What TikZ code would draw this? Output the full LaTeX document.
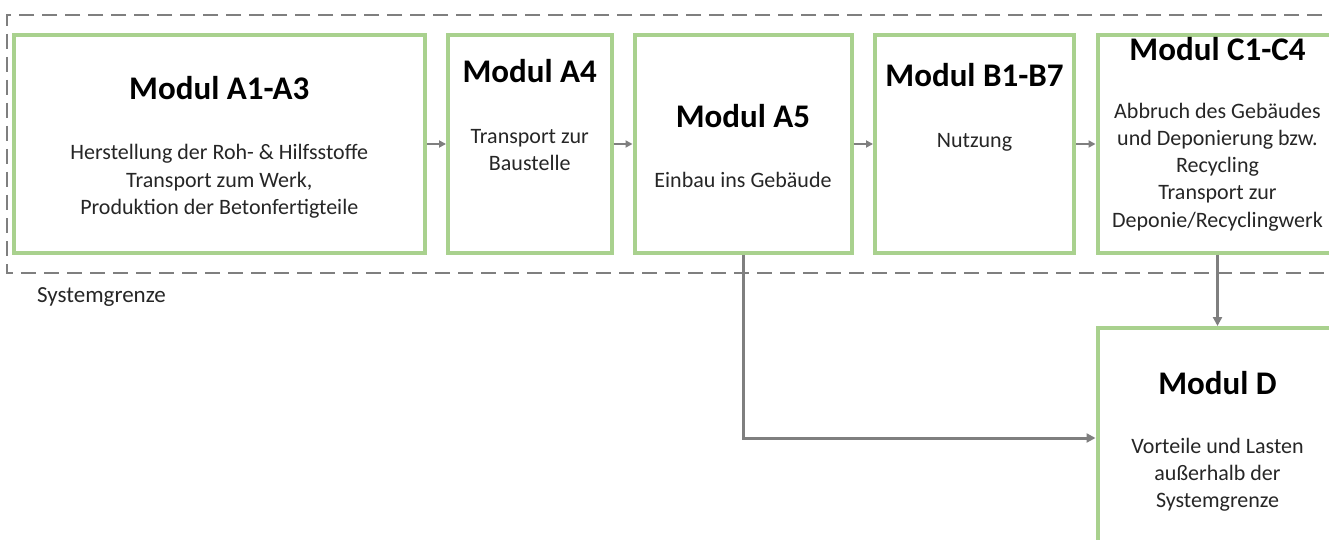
\documentclass[tikz,border=0pt]{standalone}
\usepackage{fontspec}
\setmainfont{Carlito}
\usetikzlibrary{arrows.meta}
\definecolor{boxgreen}{HTML}{A9D18E}
\definecolor{lngray}{HTML}{7F7F7F}
\definecolor{txtgray}{HTML}{262626}
\begin{document}
\begin{tikzpicture}[x=1pt,y=-1pt,
  modbox/.style={draw=boxgreen, line width=4pt, rectangle, inner sep=0pt, fill=white},
  ttl/.style={anchor=base, font=\fontsize{33}{40}\selectfont\bfseries, text=black, inner sep=0pt},
  body/.style={anchor=base, font=\fontsize{22}{27}\selectfont, text=txtgray, inner sep=0pt},
  flowarr/.style={draw=lngray, line width=2pt, -{Triangle[length=7pt,width=7pt]}},
  connarr/.style={draw=lngray, line width=3pt, -{Triangle[length=9pt,width=9pt]}},
  sysline/.style={draw=lngray, line width=2pt, dash pattern=on 15pt off 8pt}]
\useasboundingbox (0,0) rectangle (1329,540);
\fill[white] (0,0) rectangle (1329,540);
% system boundary
\draw[sysline] (1345,15) -- (7,15) -- (7,273) -- (1345,273);
\node[anchor=base west, font=\fontsize{23}{28}\selectfont, text=txtgray, inner sep=0pt] (sys) at (37,302) {Systemgrenze};
% boxes
\node[modbox, minimum width=411.5pt, minimum height=217pt] (a13) at (219.25,144) {};
\node[modbox, minimum width=163.5pt, minimum height=217pt] (a4) at (529.75,144) {};
\node[modbox, minimum width=217pt, minimum height=217pt] (a5) at (743,144) {};
\node[modbox, minimum width=199pt, minimum height=217pt] (b17) at (974.5,144) {};
\node[modbox, minimum width=240pt, minimum height=217pt] (c14) at (1217.5,144) {};
\node[modbox, minimum width=240pt, minimum height=220pt] (d) at (1217.5,438) {};
% texts A1-A3
\node[ttl] (a13t) at (219.25,100) {Modul A1-A3};
\node[body] (a13b1) at (219.25,160) {Herstellung der Roh- \& Hilfsstoffe};
\node[body] (a13b2) at (219.25,187) {Transport zum Werk,};
\node[body] (a13b3) at (219.25,214) {Produktion der Betonfertigteile};
% A4
\node[ttl] (a4t) at (529.75,83) {Modul A4};
\node[body] (a4b1) at (529.75,144) {Transport zur};
\node[body] (a4b2) at (529.75,171) {Baustelle};
% A5
\node[ttl] (a5t) at (743,128) {Modul A5};
\node[body] (a5b1) at (743,187) {Einbau ins Gebäude};
% B1-B7
\node[ttl] (b17t) at (974.5,87) {Modul B1-B7};
\node[body] (b17b1) at (974.5,148) {Nutzung};
% C1-C4
\node[ttl] (c14t) at (1217.5,61) {Modul C1-C4};
\node[body] (c14b1) at (1217.5,119) {Abbruch des Gebäudes};
\node[body] (c14b2) at (1217.5,146) {und Deponierung bzw.};
\node[body] (c14b3) at (1217.5,173) {Recycling};
\node[body] (c14b4) at (1217.5,200) {Transport zur};
\node[body] (c14b5) at (1217.5,227) {Deponie/Recyclingwerk};
% D
\node[ttl] (dt) at (1217.5,394) {Modul D};
\node[body] (db1) at (1217.5,453) {Vorteile und Lasten};
\node[body] (db2) at (1217.5,480) {außerhalb der};
\node[body] (db3) at (1217.5,507) {Systemgrenze};
% connectors
\draw[flowarr] (a13.east) -- (a4.west);
\draw[flowarr] (a4.east) -- (a5.west);
\draw[flowarr] (a5.east) -- (b17.west);
\draw[flowarr] (b17.east) -- (c14.west);
\draw[connarr] (a5.south) |- (d.west);
\draw[connarr] (c14.south) -- (d.north);
\end{tikzpicture}
\end{document}
